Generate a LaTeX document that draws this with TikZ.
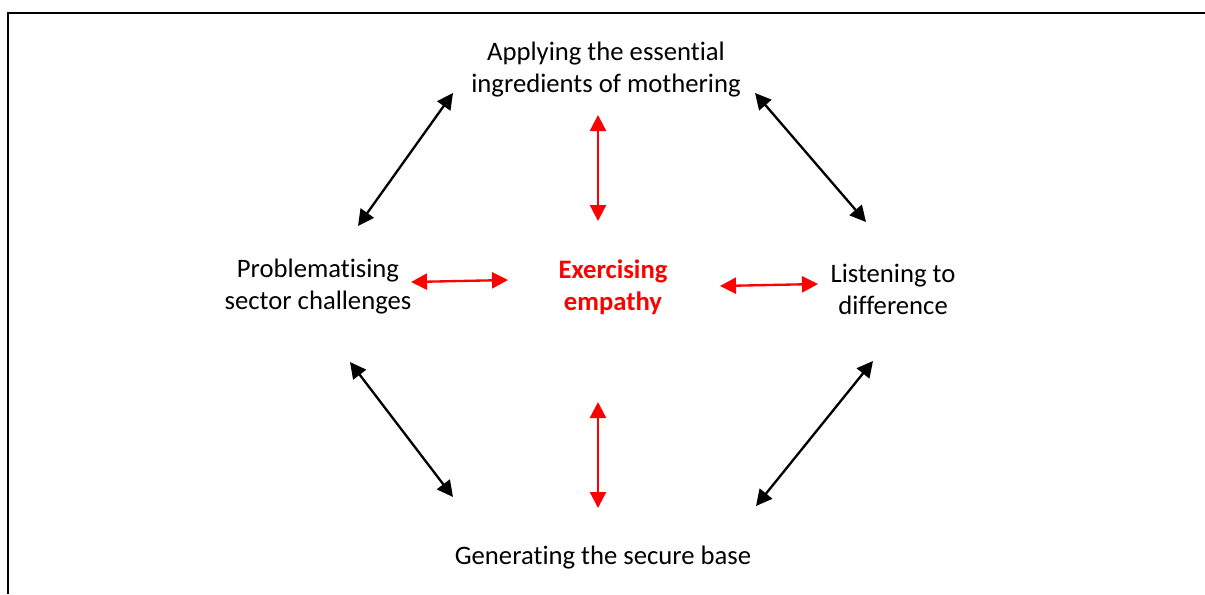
\documentclass[tikz,border=0pt]{standalone}
\usepackage{fontspec}
\setmainfont[Ligatures={NoCommon}]{Carlito}
\usetikzlibrary{arrows.meta}
\begin{document}
\begin{tikzpicture}[x=0.75pt,y=-0.75pt,
  label/.style={font=\fontsize{20}{24}\selectfont,align=center,inner sep=0pt},
  core/.style={label,text=red,font=\fontsize{20}{24}\selectfont\bfseries},
  link/.style={line width=1.75pt,{Triangle[length=12pt,width=12pt]}-{Triangle[length=12pt,width=12pt]}},
  redlink/.style={link,red}]
\useasboundingbox (0,0) rectangle (1205,594);
% frame: top and left edges only
\draw[line width=1.5pt] (8,594) -- (8,13) -- (1205,13);

% themes
\node[label] (top) at (606,70) {Applying the essential\\ingredients of mothering};
\node[label] (left) at (318,287) {Problematising\\sector challenges};
\node[core] (centre) at (613,287) {Exercising\\empathy};
\node[label] (right) at (893,289) {Listening to\\difference};
\node[label] (bottom) at (603,558) {Generating the secure base};

% arrow ends
\coordinate (ct1) at (598,115); \coordinate (ct2) at (598,221);
\coordinate (cb1) at (598,402); \coordinate (cb2) at (598,508);
\coordinate (cl1) at (411,282); \coordinate (cl2) at (508,280);
\coordinate (cr1) at (720,286); \coordinate (cr2) at (818,284);
\coordinate (tl1) at (358,226); \coordinate (tl2) at (453,93);
\coordinate (tr1) at (755,93);  \coordinate (tr2) at (866,222);
\coordinate (bl1) at (350,362); \coordinate (bl2) at (453,497);
\coordinate (br1) at (873,361); \coordinate (br2) at (756,506);

% links to the centre
\draw[redlink] (ct1) -- (ct2);
\draw[redlink] (cb1) -- (cb2);
\draw[redlink] (cl1) -- (cl2);
\draw[redlink] (cr1) -- (cr2);

% links around the ring
\draw[link] (tl1) -- (tl2);
\draw[link] (tr1) -- (tr2);
\draw[link] (bl1) -- (bl2);
\draw[link] (br1) -- (br2);
\end{tikzpicture}
\end{document}
